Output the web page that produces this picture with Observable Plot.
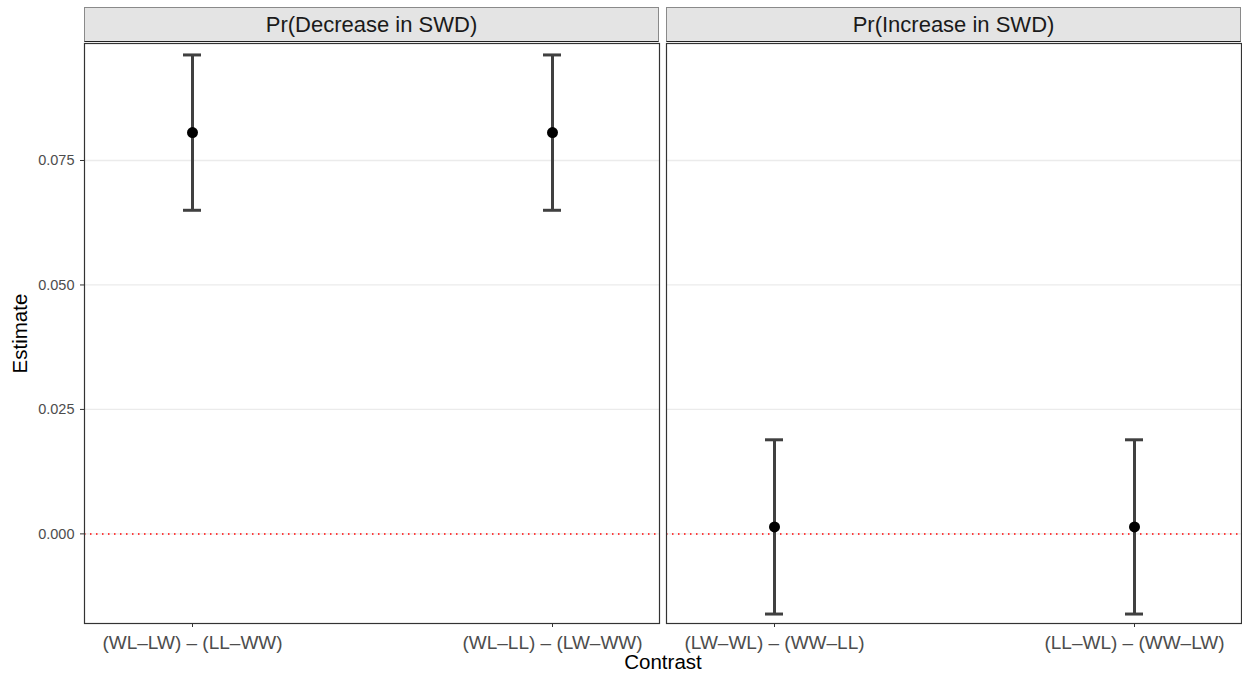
<!DOCTYPE html>
<html>
<head>
<meta charset="utf-8">
<script src="https://cdn.jsdelivr.net/npm/d3@7"></script>
<script src="https://cdn.jsdelivr.net/npm/@observablehq/plot@0.6"></script>
<style>
  body { margin: 0; background: #fff; font-family: "Liberation Sans", Arial, sans-serif; }
  #wrap { width: 1242px; height: 674px; overflow: hidden; background: #fff; }
  .strips { display: flex; padding-top: 7px; height: 35px; }
  .strip { box-sizing: border-box; width: 575px; height: 35px; background: #e4e4e4;
           border: 1px solid #8a8a8a; border-bottom: 1px solid #222;
           display: flex; align-items: center; justify-content: center;
           font-size: 22px; color: #1a1a1a; }
  .plots { display: flex; height: 607px; }
  .plots svg { overflow: visible; }
  .xtitle { box-sizing: border-box; padding-left: 84px; padding-top: 3px; height: 25px; line-height: 20px;
            text-align: center; font-size: 20.5px; color: #000; }
  g[aria-label="y-axis tick label"] { fill: #4d4d4d; font-size: 14.5px; }
  g[aria-label="x-axis tick label"] { fill: #4d4d4d; font-size: 19px; }
  g[aria-label="y-axis tick"], g[aria-label="x-axis tick"] { stroke: #333; }
  g[aria-label="y-axis label"] { fill: #000; font-size: 20.5px; }
</style>
</head>
<body>
<div id="wrap">
  <div class="strips" id="strips"></div>
  <div class="plots" id="plots"></div>
  <div class="xtitle">Contrast</div>
</div>
<script>
// ---- data ----
const panels = ["Pr(Decrease in SWD)", "Pr(Increase in SWD)"];
const panel = ["Pr(Decrease in SWD)", "Pr(Decrease in SWD)", "Pr(Increase in SWD)", "Pr(Increase in SWD)"];
const contrast = ["(WL–LW) – (LL–WW)", "(WL–LL) – (LW–WW)", "(LW–WL) – (WW–LL)", "(LL–WL) – (WW–LW)"];
const estimate = [0.0806, 0.0806, 0.0014, 0.0014];
const lower = [0.0650, 0.0650, -0.0161, -0.0161];
const upper = [0.0962, 0.0962, 0.0189, 0.0189];
const yTicks = [0, 0.025, 0.05, 0.075];
const yDomain = [-0.0180, 0.0985];
const refLine = [0];

const rows = panel.map((p, i) => ({
  panel: p, contrast: contrast[i], estimate: estimate[i], lower: lower[i], upper: upper[i]
}));

const barColor = "#404040";

function makePanel(name, withAxis) {
  const data = rows.filter(d => d.panel === name);
  const marks = [
    Plot.gridY(yTicks, {stroke: "#ebebeb", strokeOpacity: 1, strokeWidth: 1.3}),
    Plot.ruleY(refLine, {stroke: "red", strokeWidth: 1.5, strokeDasharray: "1.5,4.5"}),
    Plot.ruleX(data, {x: "contrast", y1: "lower", y2: "upper", stroke: barColor, strokeWidth: 3}),
    Plot.tickY(data, {x: "contrast", y: "upper", stroke: barColor, strokeWidth: 3}),
    Plot.tickY(data, {x: "contrast", y: "lower", stroke: barColor, strokeWidth: 3}),
    Plot.dot(data, {x: "contrast", y: "estimate", r: 5.5, fill: "#000", stroke: null}),
    Plot.frame({stroke: "#333", strokeWidth: 1.2}),
    Plot.axisX({tickSize: 4, tickPadding: 8, label: null})
  ];
  if (withAxis) {
    marks.push(Plot.axisY(yTicks, {
      tickFormat: d3.format(".3f"), tickSize: 4, tickPadding: 6,
      label: "Estimate", labelAnchor: "center", labelOffset: 72, labelArrow: "none"
    }));
  }
  return Plot.plot({
    width: withAxis ? 660 : 582,
    height: 607,
    marginTop: 1,
    marginBottom: 26,
    marginLeft: withAxis ? 84 : 6,
    marginRight: 1,
    style: {fontFamily: "Liberation Sans, Arial, sans-serif", fontSize: "14.5px", background: "transparent", overflow: "visible"},
    x: {type: "band", domain: data.map(d => d.contrast), paddingInner: 0.95, paddingOuter: 0.272, label: null},
    y: {domain: yDomain, axis: withAxis ? undefined : null, label: "Estimate"},
    marks
  });
}

const strips = document.getElementById("strips");
const plots = document.getElementById("plots");
panels.forEach((name, i) => {
  const s = document.createElement("div");
  s.className = "strip";
  s.style.marginLeft = i === 0 ? "84px" : "7px";
  s.textContent = name;
  strips.appendChild(s);
  plots.appendChild(makePanel(name, i === 0));
});
</script>
</body>
</html>
